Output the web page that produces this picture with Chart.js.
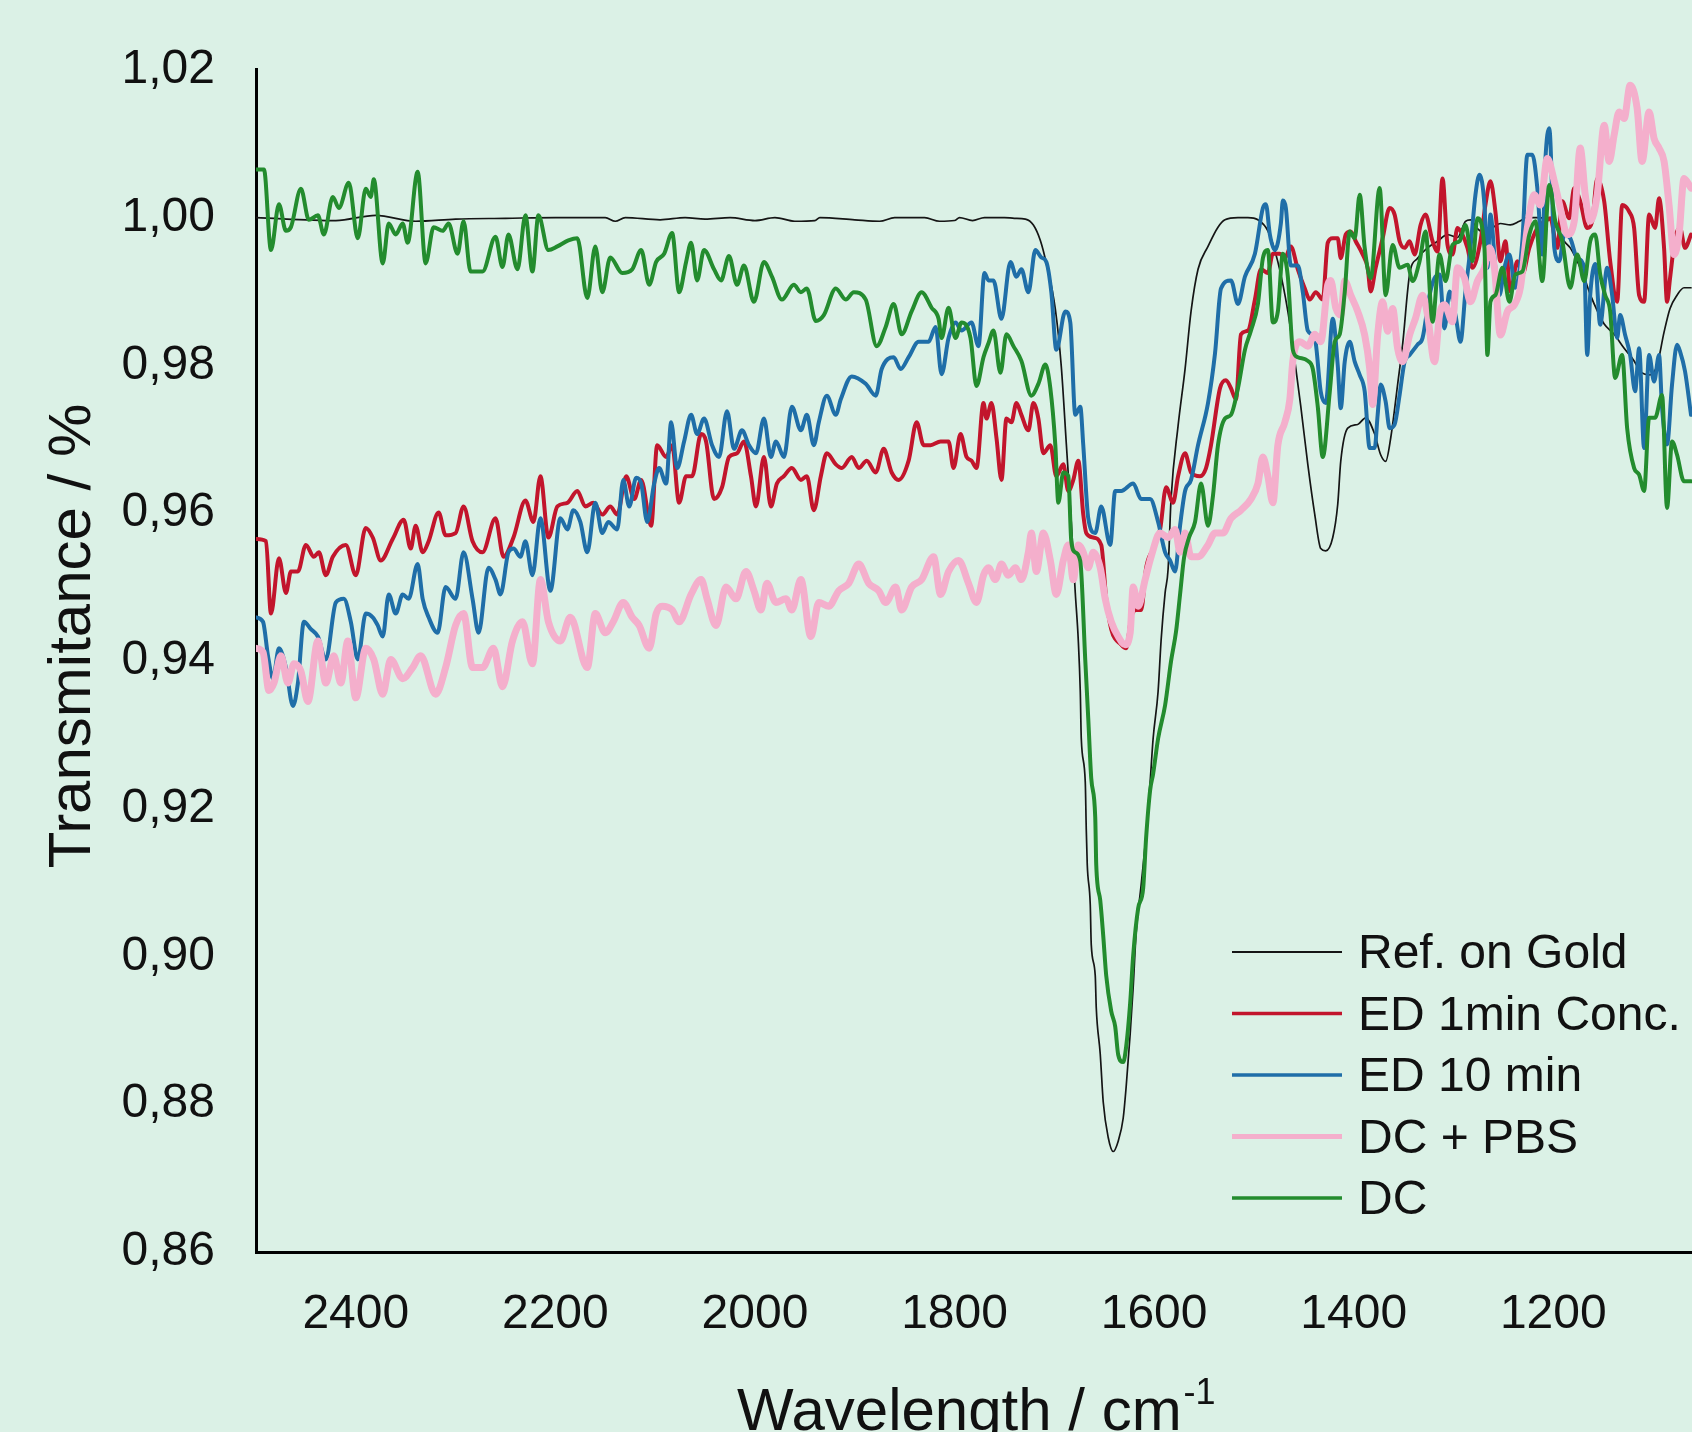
<!DOCTYPE html>
<html>
<head>
<meta charset="utf-8">
<title>IR spectra</title>
<script src="https://cdn.jsdelivr.net/npm/chart.js@4.4.0/dist/chart.umd.min.js"></script>
<style>
  html, body { margin: 0; padding: 0; background: #dbf1e6; overflow: hidden; }
  canvas { display: block; background: #dbf1e6; }
</style>
</head>
<body>
<canvas id="spectra" width="1692" height="1432"></canvas>
<script>

// each entry: [wavenumber in cm-1, transmittance]
var refGold = [
  [2500,1.0000],[2420,0.9996],[2380,1.0003],[2340,0.9995],[2300,0.9998],[2250,0.9999],[2200,1.0000],[2150,1.0000],
  [2140,0.9995],[2130,1.0000],[2095,0.9997],[2070,1.0000],[2050,0.9998],[2025,1.0000],[2000,0.9996],[1980,1.0000],
  [1960,0.9995],[1940,0.9996],[1935,1.0000],[1900,0.9997],[1875,0.9995],[1860,1.0000],[1830,1.0000],[1815,0.9995],
  [1800,0.9996],[1795,1.0000],[1782,0.9996],[1770,1.0000],[1750,1.0000],[1740,0.9999],[1729,0.9998],[1721,0.9990],
  [1714,0.9969],[1708,0.9938],[1699,0.9876],[1693,0.9798],[1688,0.9694],[1683,0.9588],[1679,0.9492],[1676,0.9428],
  [1674,0.9359],[1673,0.9295],[1669,0.9236],[1668,0.9172],[1667,0.9124],[1664,0.9070],[1663,0.9016],[1659,0.8974],
  [1658,0.8931],[1654,0.8868],[1651,0.8803],[1646,0.8755],[1641,0.8736],[1636,0.8750],[1631,0.8781],[1628,0.8824],
  [1624,0.8895],[1621,0.8958],[1618,0.9032],[1613,0.9097],[1608,0.9166],[1604,0.9236],[1601,0.9295],[1596,0.9359],
  [1593,0.9428],[1589,0.9492],[1586,0.9524],[1583,0.9620],[1576,0.9718],[1569,0.9795],[1563,0.9873],[1556,0.9930],
  [1546,0.9961],[1536,0.9987],[1529,0.9997],[1516,1.0000],[1506,1.0000],[1496,0.9997],[1486,0.9982],[1476,0.9940],
  [1466,0.9873],[1459,0.9806],[1453,0.9744],[1446,0.9666],[1439,0.9598],[1433,0.9552],[1428,0.9549],[1421,0.9567],
  [1416,0.9612],[1413,0.9670],[1406,0.9715],[1396,0.9720],[1388,0.9729],[1379,0.9707],[1373,0.9679],[1368,0.9670],
  [1363,0.9701],[1356,0.9774],[1351,0.9828],[1344,0.9923],[1336,0.9945],[1326,0.9959],[1316,0.9968],[1306,0.9977],
  [1296,0.9973],[1288,0.9995],[1283,0.9997],[1276,0.9985],[1269,0.9979],[1259,0.9988],[1253,0.9992],[1243,0.9990],
  [1234,0.9995],[1226,1.0000],[1216,1.0000],[1203,0.9997],[1196,0.9986],[1189,0.9968],[1183,0.9959],[1176,0.9941],
  [1169,0.9919],[1163,0.9896],[1156,0.9874],[1149,0.9856],[1139,0.9842],[1129,0.9823],[1119,0.9806],[1113,0.9792],
  [1103,0.9787],[1096,0.9800],[1089,0.9845],[1083,0.9877],[1076,0.9895],[1069,0.9905],[1062,0.9905]
];

var ed1min = [
  [2500,0.9565],[2490,0.9562],[2485,0.9464],[2477,0.9539],[2470,0.9492],[2465,0.9521],[2458,0.9521],[2450,0.9557],
  [2442,0.9541],[2437,0.9547],[2430,0.9516],[2423,0.9541],[2410,0.9557],[2400,0.9516],[2390,0.9580],[2383,0.9567],
  [2375,0.9536],[2363,0.9565],[2352,0.9591],[2345,0.9552],[2340,0.9583],[2333,0.9547],[2327,0.9562],[2317,0.9601],
  [2310,0.9570],[2300,0.9573],[2292,0.9609],[2283,0.9562],[2273,0.9547],[2260,0.9593],[2252,0.9541],[2242,0.9567],
  [2230,0.9617],[2222,0.9588],[2215,0.9650],[2207,0.9567],[2198,0.9609],[2188,0.9614],[2178,0.9630],[2170,0.9609],
  [2162,0.9614],[2153,0.9598],[2145,0.9609],[2138,0.9598],[2129,0.9650],[2121,0.9619],[2114,0.9645],[2104,0.9583],
  [2098,0.9692],[2089,0.9676],[2083,0.9692],[2076,0.9614],[2069,0.9650],[2063,0.9650],[2054,0.9707],[2049,0.9697],
  [2041,0.9619],[2033,0.9635],[2026,0.9676],[2018,0.9681],[2011,0.9697],[2004,0.9650],[1999,0.9609],[1991,0.9676],
  [1984,0.9609],[1978,0.9640],[1971,0.9650],[1963,0.9661],[1954,0.9645],[1948,0.9650],[1941,0.9604],[1934,0.9650],
  [1928,0.9681],[1919,0.9666],[1913,0.9661],[1903,0.9676],[1896,0.9661],[1888,0.9671],[1879,0.9655],[1871,0.9687],
  [1863,0.9655],[1856,0.9645],[1846,0.9671],[1838,0.9723],[1831,0.9692],[1824,0.9692],[1814,0.9697],[1806,0.9697],
  [1801,0.9661],[1794,0.9707],[1788,0.9676],[1783,0.9671],[1778,0.9661],[1771,0.9749],[1768,0.9728],[1763,0.9749],
  [1758,0.9702],[1753,0.9645],[1748,0.9728],[1743,0.9723],[1738,0.9749],[1733,0.9733],[1726,0.9712],[1721,0.9749],
  [1716,0.9728],[1711,0.9681],[1704,0.9692],[1698,0.9650],[1691,0.9666],[1686,0.9630],[1681,0.9645],[1676,0.9671],
  [1671,0.9598],[1668,0.9573],[1661,0.9567],[1653,0.9557],[1648,0.9484],[1643,0.9443],[1633,0.9422],[1628,0.9417],
  [1623,0.9459],[1618,0.9469],[1613,0.9469],[1608,0.9526],[1601,0.9552],[1594,0.9578],[1588,0.9635],[1581,0.9614],
  [1576,0.9650],[1569,0.9681],[1563,0.9655],[1554,0.9650],[1548,0.9661],[1543,0.9692],[1534,0.9769],[1528,0.9780],
  [1523,0.9769],[1518,0.9754],[1513,0.9842],[1506,0.9847],[1499,0.9889],[1493,0.9930],[1486,0.9925],[1481,0.9951],
  [1474,0.9951],[1469,0.9945],[1463,0.9961],[1456,0.9930],[1449,0.9904],[1444,0.9889],[1438,0.9899],[1431,0.9889],
  [1426,0.9966],[1421,0.9972],[1416,0.9972],[1413,0.9945],[1408,0.9977],[1403,0.9981],[1398,0.9968],[1391,0.9950],
  [1386,0.9932],[1383,0.9900],[1378,0.9932],[1371,0.9972],[1364,1.0013],[1359,1.0004],[1354,0.9968],[1349,0.9959],
  [1344,0.9968],[1339,0.9950],[1333,0.9990],[1328,1.0004],[1321,0.9968],[1316,0.9954],[1311,1.0053],[1306,0.9963],
  [1301,0.9950],[1296,0.9986],[1291,0.9977],[1286,0.9959],[1281,0.9932],[1273,0.9968],[1268,1.0017],[1263,1.0049],
  [1258,1.0008],[1253,0.9941],[1248,0.9968],[1243,0.9900],[1236,0.9941],[1231,0.9923],[1224,0.9959],[1216,0.9986],
  [1208,0.9995],[1203,0.9999],[1196,0.9959],[1191,1.0022],[1184,0.9999],[1179,1.0040],[1173,1.0022],[1166,0.9986],
  [1161,0.9995],[1156,1.0053],[1149,1.0022],[1143,0.9941],[1136,0.9886],[1131,1.0017],[1124,1.0008],[1119,0.9986],
  [1114,0.9895],[1109,0.9886],[1104,1.0004],[1098,0.9986],[1094,1.0026],[1089,0.9959],[1086,0.9886],[1083,0.9918],
  [1078,0.9972],[1073,0.9986],[1068,0.9959],[1062,0.9977]
];

var ed10min = [
  [2500,0.9459],[2493,0.9453],[2488,0.9407],[2483,0.9376],[2477,0.9417],[2470,0.9391],[2463,0.9339],[2458,0.9370],
  [2452,0.9453],[2445,0.9443],[2438,0.9433],[2430,0.9402],[2420,0.9479],[2412,0.9484],[2405,0.9453],[2398,0.9402],
  [2390,0.9464],[2383,0.9459],[2378,0.9448],[2373,0.9433],[2367,0.9490],[2360,0.9464],[2353,0.9490],[2347,0.9484],
  [2338,0.9531],[2333,0.9484],[2327,0.9459],[2318,0.9438],[2310,0.9500],[2300,0.9484],[2292,0.9547],[2283,0.9484],
  [2277,0.9438],[2267,0.9526],[2260,0.9510],[2255,0.9490],[2247,0.9547],[2242,0.9552],[2235,0.9541],[2230,0.9562],
  [2223,0.9516],[2215,0.9593],[2205,0.9495],[2195,0.9593],[2188,0.9578],[2182,0.9604],[2175,0.9588],[2168,0.9547],
  [2160,0.9614],[2153,0.9573],[2147,0.9588],[2138,0.9578],[2132,0.9645],[2126,0.9609],[2119,0.9648],[2114,0.9640],
  [2108,0.9588],[2101,0.9640],[2096,0.9661],[2089,0.9640],[2084,0.9723],[2078,0.9661],[2071,0.9697],[2064,0.9733],
  [2058,0.9707],[2051,0.9728],[2043,0.9692],[2036,0.9676],[2028,0.9738],[2021,0.9687],[2013,0.9712],[2006,0.9692],
  [1999,0.9681],[1991,0.9728],[1984,0.9676],[1979,0.9697],[1971,0.9676],[1963,0.9744],[1954,0.9712],[1948,0.9733],
  [1941,0.9692],[1936,0.9723],[1928,0.9759],[1919,0.9733],[1914,0.9754],[1903,0.9785],[1889,0.9775],[1879,0.9759],
  [1873,0.9795],[1861,0.9811],[1854,0.9795],[1846,0.9811],[1836,0.9832],[1826,0.9832],[1819,0.9852],[1813,0.9788],
  [1806,0.9837],[1799,0.9858],[1793,0.9847],[1783,0.9858],[1776,0.9826],[1770,0.9925],[1766,0.9915],[1761,0.9915],
  [1753,0.9863],[1744,0.9940],[1738,0.9920],[1733,0.9930],[1726,0.9899],[1719,0.9956],[1713,0.9946],[1708,0.9940],
  [1703,0.9899],[1698,0.9821],[1689,0.9873],[1684,0.9858],[1679,0.9733],[1674,0.9744],[1671,0.9692],[1666,0.9593],
  [1659,0.9573],[1653,0.9609],[1644,0.9557],[1639,0.9630],[1633,0.9630],[1621,0.9640],[1613,0.9619],[1604,0.9619],
  [1596,0.9588],[1589,0.9547],[1584,0.9536],[1579,0.9521],[1574,0.9583],[1569,0.9630],[1563,0.9645],[1556,0.9692],
  [1546,0.9749],[1539,0.9816],[1533,0.9904],[1523,0.9915],[1516,0.9883],[1509,0.9920],[1499,0.9951],[1491,1.0013],
  [1488,1.0018],[1484,0.9977],[1479,0.9956],[1473,0.9992],[1471,1.0023],[1468,1.0013],[1463,0.9935],[1456,0.9935],
  [1451,0.9899],[1446,0.9847],[1439,0.9837],[1433,0.9764],[1428,0.9749],[1421,0.9863],[1416,0.9800],[1413,0.9742],
  [1409,0.9805],[1404,0.9832],[1399,0.9805],[1394,0.9787],[1389,0.9765],[1384,0.9688],[1379,0.9688],[1376,0.9733],
  [1373,0.9774],[1368,0.9751],[1364,0.9715],[1359,0.9720],[1354,0.9760],[1349,0.9805],[1344,0.9814],[1336,0.9828],
  [1331,0.9837],[1324,0.9895],[1319,0.9918],[1314,0.9923],[1309,0.9850],[1304,0.9900],[1298,0.9868],[1293,0.9832],
  [1288,0.9900],[1283,0.9959],[1278,1.0031],[1274,1.0058],[1269,1.0017],[1266,0.9932],[1263,1.0004],[1258,0.9932],
  [1254,0.9895],[1249,0.9932],[1244,0.9950],[1238,0.9905],[1231,0.9968],[1226,1.0085],[1221,1.0085],[1216,1.0040],
  [1211,0.9950],[1208,1.0076],[1204,1.0121],[1199,0.9959],[1194,0.9941],[1189,0.9977],[1183,0.9972],[1176,0.9945],
  [1169,0.9932],[1166,0.9814],[1163,0.9895],[1158,0.9937],[1153,0.9855],[1146,0.9932],[1141,0.9895],[1136,0.9837],
  [1133,0.9868],[1128,0.9841],[1123,0.9814],[1118,0.9765],[1114,0.9823],[1109,0.9688],[1104,0.9814],[1099,0.9778],
  [1094,0.9814],[1091,0.9742],[1086,0.9693],[1081,0.9774],[1076,0.9828],[1073,0.9819],[1068,0.9792],[1062,0.9733]
];

var dcPbs = [
  [2500,0.9417],[2493,0.9412],[2487,0.9360],[2482,0.9370],[2475,0.9407],[2468,0.9370],[2462,0.9396],[2455,0.9386],
  [2448,0.9345],[2438,0.9427],[2430,0.9370],[2422,0.9407],[2415,0.9370],[2408,0.9427],[2400,0.9350],[2390,0.9417],
  [2382,0.9402],[2373,0.9355],[2365,0.9402],[2353,0.9376],[2343,0.9391],[2335,0.9407],[2320,0.9355],[2310,0.9391],
  [2300,0.9448],[2292,0.9464],[2283,0.9391],[2273,0.9391],[2262,0.9417],[2253,0.9365],[2243,0.9427],[2233,0.9453],
  [2223,0.9396],[2215,0.9510],[2207,0.9453],[2195,0.9427],[2185,0.9459],[2168,0.9391],[2160,0.9464],[2150,0.9438],
  [2142,0.9453],[2132,0.9479],[2123,0.9459],[2116,0.9448],[2106,0.9417],[2099,0.9464],[2093,0.9474],[2083,0.9469],
  [2076,0.9453],[2064,0.9490],[2054,0.9510],[2048,0.9484],[2039,0.9448],[2029,0.9500],[2019,0.9484],[2009,0.9521],
  [2001,0.9495],[1994,0.9469],[1988,0.9505],[1979,0.9479],[1969,0.9484],[1963,0.9469],[1954,0.9510],[1944,0.9433],
  [1936,0.9479],[1926,0.9474],[1916,0.9495],[1906,0.9505],[1896,0.9531],[1886,0.9505],[1876,0.9495],[1869,0.9479],
  [1859,0.9500],[1853,0.9469],[1843,0.9500],[1833,0.9510],[1821,0.9541],[1814,0.9490],[1806,0.9521],[1796,0.9536],
  [1786,0.9505],[1778,0.9479],[1771,0.9516],[1766,0.9526],[1759,0.9510],[1753,0.9531],[1746,0.9516],[1739,0.9526],
  [1733,0.9510],[1726,0.9547],[1723,0.9573],[1718,0.9521],[1711,0.9573],[1704,0.9536],[1698,0.9490],[1691,0.9536],
  [1686,0.9557],[1681,0.9510],[1676,0.9557],[1671,0.9547],[1666,0.9526],[1661,0.9547],[1654,0.9526],[1649,0.9484],
  [1643,0.9453],[1636,0.9433],[1629,0.9422],[1624,0.9438],[1621,0.9500],[1616,0.9474],[1609,0.9510],[1603,0.9541],
  [1594,0.9573],[1586,0.9567],[1579,0.9578],[1574,0.9547],[1569,0.9573],[1563,0.9541],[1556,0.9541],[1546,0.9557],
  [1539,0.9573],[1531,0.9573],[1523,0.9593],[1513,0.9604],[1503,0.9619],[1496,0.9640],[1491,0.9676],[1486,0.9650],
  [1481,0.9614],[1476,0.9692],[1469,0.9723],[1464,0.9754],[1461,0.9806],[1454,0.9832],[1446,0.9826],[1439,0.9842],
  [1433,0.9832],[1426,0.9909],[1423,0.9915],[1418,0.9878],[1413,0.9868],[1409,0.9914],[1403,0.9895],[1396,0.9873],
  [1389,0.9841],[1384,0.9796],[1381,0.9747],[1376,0.9841],[1371,0.9886],[1366,0.9846],[1361,0.9877],[1356,0.9823],
  [1351,0.9805],[1344,0.9841],[1338,0.9864],[1331,0.9895],[1326,0.9868],[1319,0.9805],[1314,0.9868],[1309,0.9882],
  [1301,0.9859],[1296,0.9932],[1289,0.9918],[1283,0.9886],[1276,0.9914],[1269,0.9932],[1264,0.9959],[1259,0.9932],
  [1253,0.9841],[1246,0.9873],[1239,0.9882],[1233,0.9905],[1226,0.9986],[1219,1.0031],[1213,1.0017],[1206,1.0080],
  [1199,1.0049],[1193,1.0013],[1186,0.9977],[1179,0.9995],[1173,1.0094],[1168,1.0031],[1163,0.9995],[1156,1.0031],
  [1149,1.0125],[1144,1.0076],[1139,1.0112],[1134,1.0143],[1129,1.0134],[1123,1.0179],[1116,1.0148],[1111,1.0076],
  [1104,1.0143],[1099,1.0107],[1094,1.0094],[1089,1.0076],[1084,1.0017],[1079,0.9950],[1074,0.9977],[1069,1.0053],
  [1062,1.0040]
];

var dc = [
  [2500,1.0065],[2492,1.0065],[2485,0.9956],[2477,1.0018],[2470,0.9982],[2465,0.9987],[2455,1.0039],[2447,0.9997],
  [2438,1.0003],[2432,0.9977],[2423,1.0028],[2417,1.0013],[2407,1.0047],[2398,0.9972],[2390,1.0039],[2385,1.0028],
  [2382,1.0052],[2373,0.9938],[2367,0.9992],[2360,0.9977],[2353,0.9992],[2348,0.9966],[2338,1.0062],[2330,0.9938],
  [2322,0.9987],[2313,0.9982],[2307,0.9992],[2298,0.9951],[2292,0.9995],[2285,0.9927],[2273,0.9927],[2260,0.9974],
  [2253,0.9933],[2247,0.9977],[2238,0.9930],[2230,1.0003],[2223,0.9927],[2217,1.0003],[2207,0.9956],[2198,0.9961],
  [2187,0.9969],[2178,0.9972],[2168,0.9891],[2160,0.9961],[2153,0.9899],[2145,0.9946],[2133,0.9925],[2123,0.9930],
  [2114,0.9956],[2106,0.9909],[2099,0.9940],[2091,0.9951],[2083,0.9979],[2076,0.9899],[2069,0.9940],[2064,0.9966],
  [2058,0.9915],[2051,0.9956],[2041,0.9930],[2034,0.9915],[2026,0.9948],[2018,0.9909],[2011,0.9935],[2001,0.9886],
  [1991,0.9940],[1983,0.9920],[1973,0.9889],[1961,0.9909],[1954,0.9899],[1948,0.9904],[1939,0.9860],[1931,0.9868],
  [1919,0.9904],[1909,0.9889],[1901,0.9899],[1889,0.9889],[1878,0.9826],[1869,0.9852],[1861,0.9883],[1853,0.9842],
  [1843,0.9873],[1833,0.9899],[1823,0.9878],[1816,0.9863],[1813,0.9837],[1806,0.9878],[1799,0.9837],[1793,0.9858],
  [1784,0.9837],[1778,0.9772],[1771,0.9811],[1766,0.9830],[1761,0.9847],[1754,0.9790],[1748,0.9842],[1741,0.9826],
  [1733,0.9806],[1723,0.9759],[1716,0.9775],[1709,0.9801],[1704,0.9769],[1699,0.9692],[1696,0.9614],[1691,0.9655],
  [1686,0.9650],[1683,0.9562],[1679,0.9547],[1674,0.9535],[1669,0.9401],[1666,0.9322],[1663,0.9241],[1659,0.9188],
  [1658,0.9124],[1654,0.9076],[1651,0.9028],[1648,0.8974],[1643,0.8926],[1639,0.8905],[1636,0.8867],[1631,0.8857],
  [1628,0.8878],[1624,0.8937],[1621,0.9001],[1616,0.9065],[1611,0.9092],[1608,0.9161],[1604,0.9225],[1601,0.9247],
  [1596,0.9295],[1589,0.9340],[1583,0.9400],[1578,0.9440],[1574,0.9490],[1570,0.9540],[1565,0.9567],[1559,0.9588],
  [1553,0.9640],[1546,0.9583],[1541,0.9624],[1536,0.9692],[1529,0.9728],[1523,0.9733],[1516,0.9769],[1509,0.9821],
  [1503,0.9847],[1496,0.9883],[1491,0.9945],[1486,0.9956],[1481,0.9858],[1476,0.9873],[1471,0.9951],[1466,0.9920],
  [1461,0.9821],[1456,0.9811],[1446,0.9806],[1441,0.9795],[1436,0.9744],[1431,0.9676],[1424,0.9764],[1419,0.9832],
  [1414,0.9842],[1409,0.9899],[1404,0.9981],[1399,0.9972],[1394,1.0031],[1389,0.9959],[1383,0.9918],[1374,1.0040],
  [1368,0.9895],[1361,0.9963],[1354,0.9932],[1346,0.9936],[1341,0.9914],[1334,0.9941],[1328,0.9981],[1321,0.9859],
  [1314,0.9950],[1308,0.9914],[1301,0.9963],[1294,0.9968],[1288,0.9990],[1281,0.9941],[1276,0.9999],[1269,0.9959],
  [1266,0.9814],[1263,0.9886],[1258,0.9895],[1251,0.9932],[1244,0.9886],[1238,0.9923],[1231,0.9927],[1224,0.9977],
  [1218,0.9995],[1211,0.9914],[1204,1.0044],[1198,0.9995],[1191,0.9968],[1183,0.9905],[1176,0.9950],[1169,0.9914],
  [1163,0.9968],[1158,0.9977],[1153,0.9923],[1148,0.9895],[1143,0.9873],[1138,0.9783],[1131,0.9814],[1126,0.9715],
  [1119,0.9661],[1114,0.9652],[1109,0.9630],[1104,0.9729],[1098,0.9729],[1091,0.9760],[1086,0.9607],[1081,0.9697],
  [1076,0.9679],[1069,0.9643],[1062,0.9643]
];

var xTicks = [2400, 2200, 2000, 1800, 1600, 1400, 1200];
var yTicks = [0.86, 0.88, 0.90, 0.92, 0.94, 0.96, 0.98, 1.00, 1.02];

var FONT = "'Liberation Sans', Arial, Helvetica, sans-serif";
var INK = '#111111';

function toPoints(pairs) {
  return pairs.map(function (p) { return { x: p[0], y: p[1] }; });
}

function series(label, pairs, color, width, keyWidth, order) {
  return {
    label: label,
    data: toPoints(pairs),
    borderColor: color,
    backgroundColor: color,
    borderWidth: width,
    keyWidth: keyWidth,
    borderJoinStyle: 'round',
    borderCapStyle: 'round',
    pointRadius: 0,
    fill: false,
    cubicInterpolationMode: 'monotone',
    order: order
  };
}

// axis titles, drawn by hand so they can sit exactly where wanted
var axisTitles = {
  id: 'axisTitles',
  afterDraw: function (chart) {
    var ctx = chart.ctx;
    ctx.save();
    ctx.fillStyle = INK;
    ctx.textBaseline = 'alphabetic';

    ctx.font = '60px ' + FONT;
    ctx.save();
    ctx.translate(90, 636);
    ctx.rotate(-Math.PI / 2);
    ctx.textAlign = 'center';
    ctx.fillText('Transmitance / %', 0, 0);
    ctx.restore();

    ctx.textAlign = 'left';
    var main = 'Wavelength / cm';
    ctx.fillText(main, 737, 1430);
    var w = ctx.measureText(main).width;
    ctx.font = '36px ' + FONT;
    ctx.fillText('-1', 737 + w + 2, 1404);
    ctx.restore();
  }
};

// series key in the lower right of the plot
var seriesKey = {
  id: 'seriesKey',
  afterDraw: function (chart) {
    var ctx = chart.ctx;
    var sets = chart.data.datasets;
    ctx.save();
    ctx.font = '48px ' + FONT;
    ctx.textAlign = 'left';
    ctx.textBaseline = 'alphabetic';
    for (var i = 0; i < sets.length; i++) {
      var y = 952 + i * 61.5;
      ctx.strokeStyle = sets[i].borderColor;
      ctx.lineWidth = sets[i].keyWidth;
      ctx.beginPath();
      ctx.moveTo(1232, y);
      ctx.lineTo(1342, y);
      ctx.stroke();
      ctx.fillStyle = INK;
      ctx.fillText(sets[i].label, 1358, y + 16);
    }
    ctx.restore();
  }
};

var ctx = document.getElementById('spectra').getContext('2d');

var chart = new Chart(ctx, {
  type: 'line',
  data: {
    datasets: [
      series('Ref. on Gold', refGold, '#151515', 1.7, 2, 4),
      series('ED 1min Conc.', ed1min, '#c2152c', 4, 3.5, 3),
      series('ED 10 min', ed10min, '#1f6ea8', 4, 3.5, 2),
      series('DC + PBS', dcPbs, '#f4afcc', 7, 5, 1),
      series('DC', dc, '#238c2e', 4, 3.5, 0)
    ]
  },
  options: {
    responsive: false,
    animation: false,
    events: [],
    layout: {
      autoPadding: false,
      padding: { top: 68, right: 0, bottom: 0, left: 0 }
    },
    plugins: {
      legend: { display: false },
      tooltip: { enabled: false }
    },
    scales: {
      x: {
        type: 'linear',
        reverse: true,
        min: 1061,
        max: 2500,
        afterFit: function (scale) { scale.height = 180; },
        afterBuildTicks: function (scale) {
          scale.ticks = xTicks.map(function (v) { return { value: v }; });
        },
        grid: { drawOnChartArea: false, drawTicks: false },
        border: { display: true, color: '#000', width: 3 },
        ticks: {
          padding: 34,
          color: INK,
          maxRotation: 0,
          autoSkip: false,
          font: { family: FONT, size: 48 },
          callback: function (v) { return String(v); }
        }
      },
      y: {
        type: 'linear',
        min: 0.86,
        max: 1.02,
        afterFit: function (scale) { scale.width = 256; },
        afterBuildTicks: function (scale) {
          scale.ticks = yTicks.map(function (v) { return { value: v }; });
        },
        grid: { drawOnChartArea: false, drawTicks: false },
        border: { display: true, color: '#000', width: 3 },
        ticks: {
          padding: 41,
          color: INK,
          font: { family: FONT, size: 48 },
          callback: function (v) { return v.toFixed(2).replace('.', ','); }
        }
      }
    }
  },
  plugins: [axisTitles, seriesKey]
});

</script>
</body>
</html>
